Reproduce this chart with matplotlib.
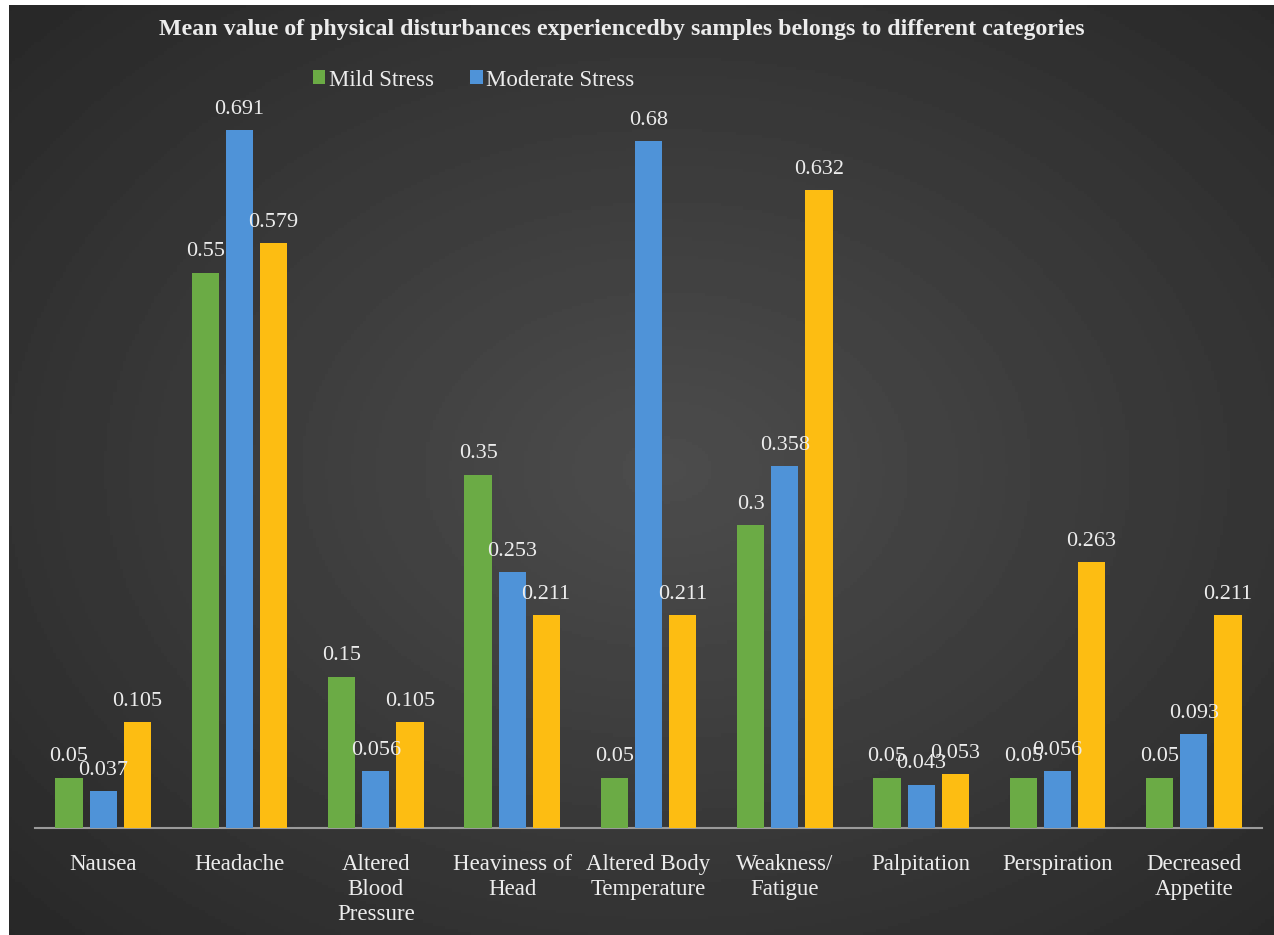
import numpy as np
import matplotlib
matplotlib.use("Agg")
import matplotlib.pyplot as plt

# categories and series
categories = ["Nausea", "Headache", "Altered\nBlood\nPressure", "Heaviness of\nHead",
              "Altered Body\nTemperature", "Weakness/\nFatigue", "Palpitation",
              "Perspiration", "Decreased\nAppetite"]
series_names = ["Mild Stress", "Moderate Stress", "Severe Stress"]
mild = [0.05, 0.55, 0.15, 0.35, 0.05, 0.3, 0.05, 0.05, 0.05]
moderate = [0.037, 0.691, 0.056, 0.253, 0.68, 0.358, 0.043, 0.056, 0.093]
severe = [0.105, 0.579, 0.105, 0.211, 0.211, 0.632, 0.053, 0.263, 0.211]
value_labels = [
    ["0.05", "0.55", "0.15", "0.35", "0.05", "0.3", "0.05", "0.05", "0.05"],
    ["0.037", "0.691", "0.056", "0.253", "0.68", "0.358", "0.043", "0.056", "0.093"],
    ["0.105", "0.579", "0.105", "0.211", "0.211", "0.632", "0.053", "0.263", "0.211"],
]

colors = ["#6bab45", "#4f93d8", "#fdbd12"]
txt_col = "#ececec"
FONT = "Liberation Serif"
W, H = 1274, 935

plt.rcParams["font.family"] = "serif"
plt.rcParams["font.serif"] = [FONT, "DejaVu Serif"]

fig = plt.figure(figsize=(W / 100, H / 100), dpi=100, facecolor="white")

# dark radial background
bg = fig.add_axes([9 / W, 0, (W - 9) / W, (H - 5) / H])
yy, xx = np.mgrid[0:1:300j, 0:1:400j]
r = np.sqrt(((xx - 0.52) / 0.75) ** 2 + ((yy - 0.5) / 0.75) ** 2)
shade = np.clip(0.30 - 0.15 * r, 0.15, 0.30)
bg.imshow(shade, cmap="gray", vmin=0, vmax=1, aspect="auto", extent=[0, 1, 0, 1])
bg.set_axis_off()

ax = fig.add_axes([35 / W, 1 - 828 / H, (1262 - 35) / W, 808 / H])
ax.patch.set_alpha(0)
x = np.arange(len(categories))
width = 0.2
offsets = [-0.25, 0, 0.25]
data = [mild, moderate, severe]
for i, (vals, name) in enumerate(zip(data, series_names)):
    lab = name if i < 2 else "_nolegend_"
    bars = ax.bar(x + offsets[i], vals, width, color=colors[i], label=lab, zorder=3)
    for b, t in zip(bars, value_labels[i]):
        ax.annotate(t, (b.get_x() + b.get_width() / 2, b.get_height()),
                    xytext=(0, 8), textcoords="offset points", ha="center", va="bottom",
                    color=txt_col, fontsize=16, family=FONT, zorder=5)

ax.set_xlim(-0.5, len(categories) - 0.5)
ax.set_ylim(0, 0.8)
ax.set_yticks([])
ax.set_xticks(x)
ax.set_xticklabels(categories, color=txt_col, fontsize=16.5, family=FONT, linespacing=1.25)
ax.tick_params(axis="x", length=0, pad=19)
for s in ["top", "right", "left"]:
    ax.spines[s].set_visible(False)
ax.spines["bottom"].set_color("#9a9a9a")
ax.spines["bottom"].set_linewidth(1.5)

fig.text(622 / W, 1 - 30 / H,
         "Mean value of physical disturbances experiencedby samples belongs to different categories",
         ha="center", va="center", color=txt_col, fontsize=17.2, fontweight="bold", family=FONT)

fig.legend(loc="center left", bbox_to_anchor=(292 / W, 1 - 80 / H), ncol=2, frameon=False,
           handlelength=0.55, handleheight=0.55, handletextpad=0.15, columnspacing=1.6,
           prop={"size": 16.5, "family": FONT}, labelcolor=txt_col)

fig.savefig("out.png", dpi=100, facecolor=fig.get_facecolor())
